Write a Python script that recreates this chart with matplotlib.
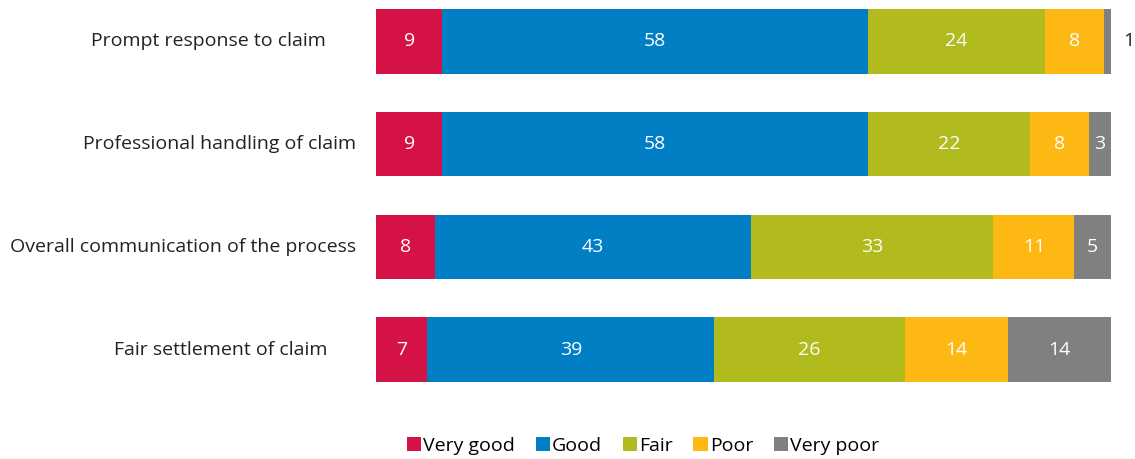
import matplotlib
matplotlib.use('Agg')
import matplotlib.pyplot as plt
from matplotlib.patches import Patch
import matplotlib.transforms as mtransforms

plt.rcParams['font.family'] = ['Open Sans', 'DejaVu Sans']

# Data
categories = ["Prompt response to claim", "Professional handling of claim",
              "Overall communication of the process", "Fair settlement of claim"]
series_names = ["Very good", "Good", "Fair", "Poor", "Very poor"]
very_good = [9, 9, 8, 7]
good = [58, 58, 43, 39]
fair = [24, 22, 33, 26]
poor = [8, 8, 11, 14]
very_poor = [1, 3, 5, 14]

colors = ["#D51245", "#007FC4", "#B2BB1E", "#FDB813", "#808080"]
# gap (px) between category label and bars
label_gap = [50, 20, 20, 49]

fig = plt.figure(figsize=(11.35, 4.59), dpi=100)
ax = fig.add_axes([376 / 1135, (459 - 391) / 459, 735 / 1135, 391 / 459])

y = list(range(len(categories)))
left = [0] * len(categories)
for name, vals, col in zip(series_names, [very_good, good, fair, poor, very_poor], colors):
    ax.barh(y, vals, left=left, height=0.63, color=col, edgecolor='none')
    for i, v in enumerate(vals):
        if v >= 2:
            ax.text(left[i] + v / 2, i, str(v), ha='center', va='center',
                    color='white', fontsize=14)
        else:
            ax.text(left[i] + v + 1.6, i, str(v), ha='left', va='center',
                    color='#222222', fontsize=14)
    left = [l + v for l, v in zip(left, vals)]

ax.set_xlim(0, 100)
ax.set_ylim(3.4, -0.4)
ax.axis('off')

for i, cat in enumerate(categories):
    tr = ax.transAxes + mtransforms.ScaledTranslation(-label_gap[i] / 100, 0, fig.dpi_scale_trans)
    ax.text(0, i, cat, transform=mtransforms.blended_transform_factory(tr, ax.transData),
            ha='right', va='center', fontsize=14, color='#222222')

handles = [Patch(facecolor=c, edgecolor='none', label=n) for n, c in zip(series_names, colors)]
fig.legend(handles=handles, loc='center', bbox_to_anchor=(643 / 1135, 1 - 446 / 459),
           ncol=5, frameon=False, fontsize=14, handlelength=0.75, handleheight=0.75,
           handletextpad=0.1, columnspacing=1.05)

fig.savefig("out.png", dpi=100)
